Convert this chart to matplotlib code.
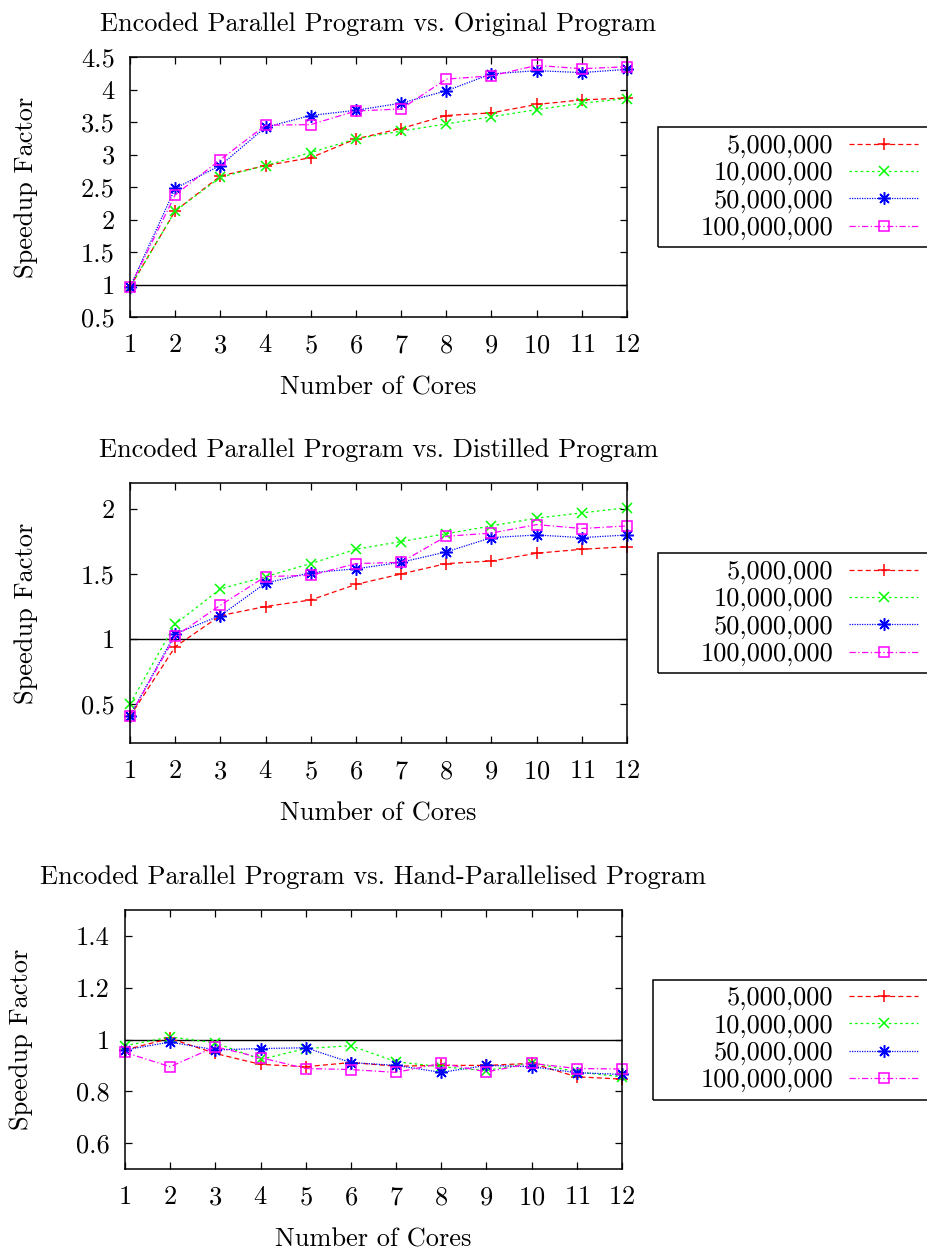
import matplotlib
matplotlib.use('Agg')
import matplotlib.pyplot as plt
from matplotlib.patches import Rectangle
from matplotlib.ticker import FuncFormatter

plt.rcParams['font.family'] = ['cmr10', 'DejaVu Serif']
plt.rcParams['font.size'] = 19
plt.rcParams['axes.formatter.use_mathtext'] = True

cores = list(range(1, 13))
sizes = ['5,000,000', '10,000,000', '50,000,000', '100,000,000']

# vs original program
orig_5m = [0.96, 2.13, 2.67, 2.83, 2.95, 3.24, 3.40, 3.60, 3.64, 3.77, 3.84, 3.87]
orig_10m = [0.96, 2.13, 2.65, 2.83, 3.03, 3.24, 3.36, 3.47, 3.58, 3.69, 3.79, 3.86]
orig_50m = [0.96, 2.48, 2.83, 3.42, 3.60, 3.68, 3.79, 3.98, 4.24, 4.29, 4.26, 4.31]
orig_100m = [0.96, 2.38, 2.92, 3.45, 3.46, 3.67, 3.70, 4.16, 4.21, 4.37, 4.32, 4.35]

# vs distilled program
dist_5m = [0.405, 0.94, 1.18, 1.25, 1.30, 1.42, 1.50, 1.58, 1.60, 1.66, 1.69, 1.71]
dist_10m = [0.50, 1.115, 1.385, 1.48, 1.58, 1.69, 1.75, 1.81, 1.87, 1.93, 1.97, 2.01]
dist_50m = [0.41, 1.04, 1.18, 1.43, 1.51, 1.54, 1.59, 1.67, 1.78, 1.80, 1.78, 1.80]
dist_100m = [0.41, 1.02, 1.26, 1.48, 1.49, 1.58, 1.59, 1.79, 1.815, 1.88, 1.85, 1.87]

# vs hand-parallelised program
hand_5m = [0.96, 1.004, 0.946, 0.904, 0.895, 0.911, 0.897, 0.90, 0.90, 0.908, 0.856, 0.847]
hand_10m = [0.976, 1.01, 0.987, 0.923, 0.965, 0.976, 0.914, 0.895, 0.88, 0.911, 0.875, 0.856]
hand_50m = [0.96, 0.99, 0.96, 0.965, 0.968, 0.911, 0.90, 0.873, 0.90, 0.895, 0.872, 0.865]
hand_100m = [0.95, 0.895, 0.972, 0.93, 0.888, 0.884, 0.873, 0.908, 0.875, 0.908, 0.888, 0.886]

panels = [
    ('Encoded Parallel Program vs. Original Program',
     [orig_5m, orig_10m, orig_50m, orig_100m], (0.5, 4.5),
     [0.5, 1, 1.5, 2, 2.5, 3, 3.5, 4, 4.5]),
    ('Encoded Parallel Program vs. Distilled Program',
     [dist_5m, dist_10m, dist_50m, dist_100m], (0.2, 2.2),
     [0.5, 1, 1.5, 2]),
    ('Encoded Parallel Program vs. Hand-Parallelised Program',
     [hand_5m, hand_10m, hand_50m, hand_100m], (0.5, 1.5),
     [0.6, 0.8, 1, 1.2, 1.4]),
]

styles = [
    dict(color='#ff0000', dashes=(4, 2.5), marker='+', ms=9, mew=1.1),
    dict(color='#00ff00', dashes=(2, 2.5), marker='x', ms=7, mew=1.1),
    dict(color='#0000ff', dashes=(1, 1), marker=(8, 2, 0), ms=9, mew=1.1),
    dict(color='#ff00ff', dashes=(5, 2, 1, 2), marker='s', ms=7, mew=1.1, mfc='none'),
]

W, H = 928, 1250
rects = [(130, 57, 627, 317), (130, 483, 627, 743), (125, 910, 622, 1169)]
frame_left = [658, 658, 653]

fig = plt.figure(figsize=(W / 100, H / 100), dpi=100)
legends = []
for (title, series, ylim, yticks), (x0, y0, x1, y1) in zip(panels, rects):
    ax = fig.add_axes([x0 / W, 1 - y1 / H, (x1 - x0) / W, (y1 - y0) / H])
    lines = []
    for vals, st in zip(series, styles):
        ln, = ax.plot(cores, vals, lw=0.9, clip_on=False, **st)
        lines.append(ln)
    ax.axhline(1, color='black', lw=1.0, zorder=1)
    ax.set_xlim(1, 12)
    ax.set_ylim(*ylim)
    ax.set_xticks(cores)
    ax.set_yticks(yticks)
    ax.yaxis.set_major_formatter(FuncFormatter(lambda v, p: f'{v:g}'))
    ax.tick_params(direction='in', top=True, right=True, length=5, width=0.9)
    ax.tick_params(axis='x', pad=12)
    ax.tick_params(axis='y', pad=11)
    for s in ax.spines.values():
        s.set_linewidth(1.1)
    ax.set_title(title, pad=19, fontsize=19)
    ax.set_xlabel('Number of Cores', labelpad=13)
    ax.set_ylabel('Speedup Factor', labelpad=31)
    cy = 1 - (y0 + y1) / 2 / H
    leg = ax.legend(lines, sizes, loc='center right', bbox_to_anchor=(918 / W, cy),
                    bbox_transform=fig.transFigure, markerfirst=False, frameon=False,
                    handlelength=2.6, handletextpad=0.6, labelspacing=0.13,
                    borderpad=0, borderaxespad=0, numpoints=1)
    legends.append((leg, cy))

for (leg, cy), fl in zip(legends, frame_left):
    fig.add_artist(Rectangle((fl / W, cy - 60 / H), 0.5, 120 / H, transform=fig.transFigure,
                             fill=False, lw=1.1, ec='black'))

fig.savefig('out.png', dpi=100)
